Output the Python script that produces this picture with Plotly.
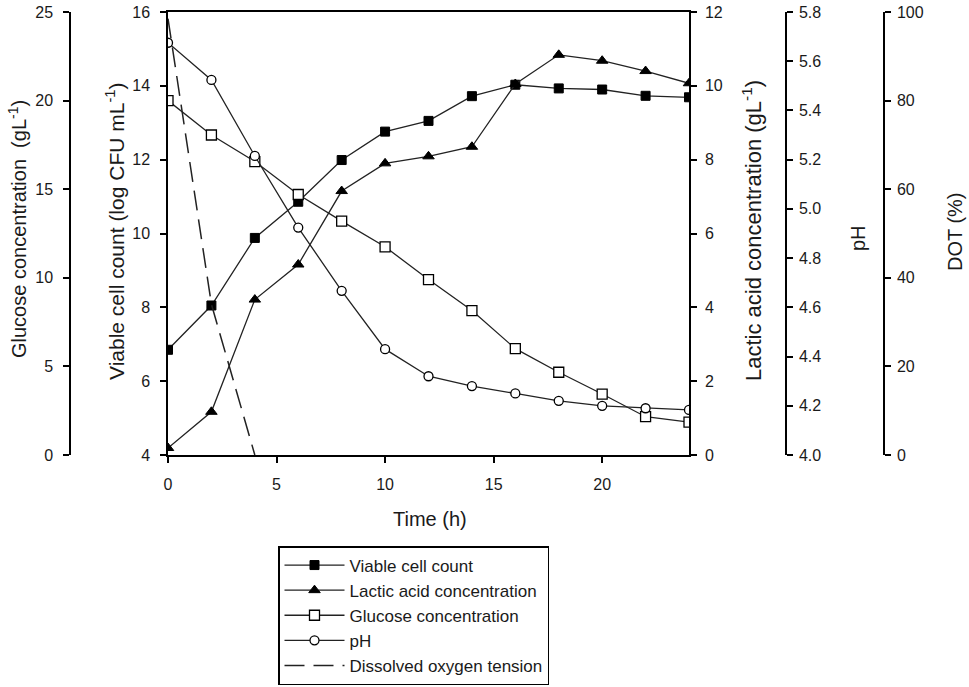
import plotly.graph_objects as go

# sampling times (h)
time_h = [0, 2, 4, 6, 8, 10, 12, 14, 16, 18, 20, 22, 24]

# viable cell count (log CFU/mL)
viable = [6.85, 8.05, 9.88, 10.86, 11.99, 12.76, 13.05, 13.72, 14.03, 13.93, 13.90, 13.73, 13.69]
# lactic acid (g/L)
lactic = [0.19, 1.17, 4.21, 5.16, 7.15, 7.90, 8.09, 8.35, 10.05, 10.84, 10.68, 10.40, 10.07]
# glucose (g/L)
glucose = [20.0, 18.06, 16.56, 14.7, 13.2, 11.75, 9.9, 8.15, 6.0, 4.67, 3.44, 2.16, 1.85]
# pH
ph = [5.675, 5.524, 5.215, 4.924, 4.667, 4.43, 4.32, 4.28, 4.25, 4.22, 4.20, 4.19, 4.183]

# dissolved oxygen tension (%)
dot_time = [0, 2, 4]
dot = [98.5, 34, 0]

W, H = 969, 687
L_PX, R_PX, T_PX, B_PX = 168, 689, 12, 455  # plot box in pixels

FONT = "Arial, Liberation Sans, sans-serif"
INK = "#1a1a1a"
LINE = "#222222"


def px_x(px):
    return px / W


def px_y(py):
    return (B_PX - py) / (B_PX - T_PX)


fig = go.Figure()

line_style = dict(color=LINE, width=1.3)

fig.add_trace(go.Scatter(
    x=time_h, y=viable, name="Viable cell count", yaxis="y",
    mode="lines+markers", line=line_style,
    marker=dict(symbol="square", size=9, color="black", line=dict(color="black", width=1))
))
fig.add_trace(go.Scatter(
    x=time_h, y=lactic, name="Lactic acid concentration", yaxis="y2",
    mode="lines+markers", line=line_style,
    marker=dict(symbol="triangle-up", size=10, color="black", line=dict(color="black", width=1))
))
fig.add_trace(go.Scatter(
    x=time_h, y=glucose, name="Glucose concentration", yaxis="y3",
    mode="lines+markers", line=line_style,
    marker=dict(symbol="square", size=10, color="white", line=dict(color="black", width=1.3))
))
fig.add_trace(go.Scatter(
    x=time_h, y=ph, name="pH", yaxis="y4",
    mode="lines+markers", line=line_style,
    marker=dict(symbol="circle", size=9, color="white", line=dict(color="black", width=1.3))
))
fig.add_trace(go.Scatter(
    x=dot_time, y=dot, name="Dissolved oxygen tension", yaxis="y5",
    mode="lines", line=dict(color=LINE, width=1.5, dash="20px,9px")
))

tick_font = dict(family=FONT, size=16, color=INK)
axis_common = dict(
    showline=True, linecolor="black", linewidth=1.5,
    ticks="outside", ticklen=6, tickwidth=1.5, tickcolor="black",
    showgrid=False, zeroline=False, tickfont=tick_font,
)

fig.update_layout(
    width=W, height=H,
    template="none",
    paper_bgcolor="white", plot_bgcolor="white",
    margin=dict(l=0, r=0, t=T_PX, b=H - B_PX),
    font=dict(family=FONT, color=INK),
    showlegend=True,
    xaxis=dict(domain=[px_x(L_PX), px_x(R_PX)], range=[0, 24], tickvals=[0, 5, 10, 15, 20],
               mirror=True, ticklabelstandoff=8, **axis_common),
    yaxis=dict(range=[4, 16], dtick=2, anchor="x", side="left", ticklabelstandoff=7,
               **axis_common),
    yaxis2=dict(range=[0, 12], dtick=2, anchor="x", side="right", overlaying="y",
                ticklabelstandoff=5, **axis_common),
    yaxis3=dict(range=[0, 25], dtick=5, anchor="free", side="left", overlaying="y",
                position=px_x(70), ticklabelstandoff=7, **axis_common),
    yaxis4=dict(range=[4.0, 5.8], dtick=0.2, tickformat=".1f", anchor="free", side="right",
                overlaying="y", position=px_x(786), ticklabelstandoff=3, **axis_common),
    yaxis5=dict(range=[0, 100], dtick=20, anchor="free", side="right", overlaying="y",
                position=px_x(884), ticklabelstandoff=3, **axis_common),
    legend=dict(
        x=px_x(278), y=px_y(546), xanchor="left", yanchor="top",
        bordercolor="black", borderwidth=1.5, bgcolor="white",
        font=dict(family=FONT, size=17, color=INK),
        itemwidth=60, tracegroupgap=0,
        entrywidth=215, entrywidthmode="pixels",
    ),
)

titles = [
    ("Glucose concentration  (gL<sup>-1</sup>)", 17, 229, -90, 20),
    ("Viable cell count (log CFU mL<sup>-1</sup>)", 115, 232, -90, 21),
    ("Lactic acid concentration (gL<sup>-1</sup>)", 752, 231, -90, 22),
    ("pH", 858, 238, -90, 20),
    ("DOT (%)", 955, 232, -90, 20),
    ("Time (h)", 430, 519, 0, 20),
]
for text, cx, cy, ang, size in titles:
    fig.add_annotation(
        text=text, xref="paper", yref="paper", x=px_x(cx), y=px_y(cy),
        xanchor="center", yanchor="middle", showarrow=False, textangle=ang,
        font=dict(family=FONT, size=size, color=INK),
    )

# drop the browser's default 8px body margin so the figure fills the window
fig.write_html("out.html", config={"displayModeBar": False},
               post_script="document.body.style.margin = '0';")
